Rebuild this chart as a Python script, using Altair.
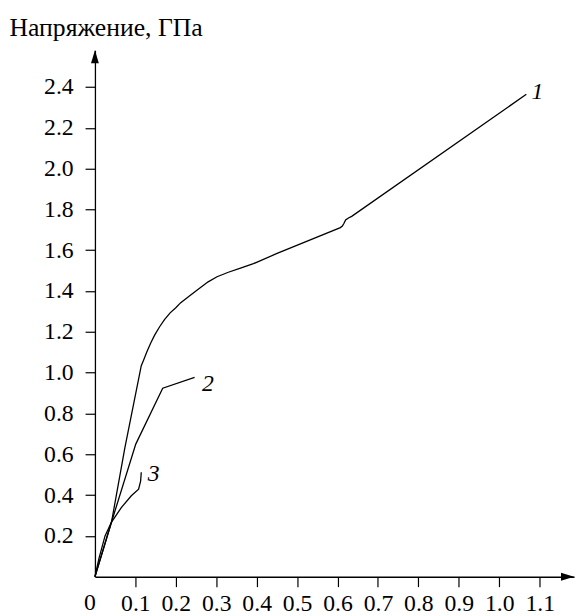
import altair as alt
import pandas as pd

# ---- data ----
curve1_x = [0, 0.041, 0.074, 0.1146, 0.12, 0.128, 0.138, 0.148, 0.16, 0.172, 0.186, 0.2, 0.2115, 0.232, 0.253, 0.28, 0.302,
            0.33, 0.36, 0.392, 0.449, 0.607, 0.612, 0.616, 0.62, 0.627, 0.635, 1.067]
curve1_y = [0, 0.268, 0.631, 1.034, 1.06, 1.1, 1.145, 1.185, 1.225, 1.26, 1.293, 1.318, 1.342, 1.373, 1.405, 1.445, 1.47,
            1.492, 1.512, 1.534, 1.583, 1.711, 1.718, 1.732, 1.748, 1.758, 1.766, 2.364]
curve2_x = [0, 0.041, 0.101, 0.1676, 0.2465]
curve2_y = [0, 0.268, 0.65, 0.924, 0.977]
curve3_x = [0, 0.01, 0.025, 0.041, 0.0657, 0.09, 0.108, 0.113, 0.1146]
curve3_y = [0, 0.09, 0.2, 0.268, 0.340, 0.397, 0.429, 0.469, 0.512]

label_text = ["1", "2", "3"]
label_x = [1.0945, 0.2794, 0.1451]
label_y = [2.377, 0.943, 0.501]

x_ticks = [0.1, 0.2, 0.3, 0.4, 0.5, 0.6, 0.7, 0.8, 0.9, 1.0, 1.1]
y_ticks = [0.2, 0.4, 0.6, 0.8, 1.0, 1.2, 1.4, 1.6, 1.8, 2.0, 2.2, 2.4]
x_max = 1.185
y_max = 2.58
y_title = "Напряжение, ГПа"

FONT = "Liberation Serif, Times New Roman, serif"
FS = 24

def frame(xs_, ys_):
    return pd.DataFrame({"x": xs_, "y": ys_, "i": list(range(len(xs_)))})

xs = alt.Scale(domain=[0, x_max], nice=False, zero=False)
ys = alt.Scale(domain=[0, y_max], nice=False, zero=False)

x_axis = alt.Axis(values=x_ticks, format=".1f", title=None, grid=False,
                  tickSize=10, tickColor="black", tickWidth=1.2,
                  domainColor="black", domainWidth=1.3,
                  labelFont=FONT, labelFontSize=FS, labelColor="black",
                  labelPadding=5)
y_axis = alt.Axis(values=y_ticks, format=".1f", grid=False,
                  tickSize=10, tickColor="black", tickWidth=1.2,
                  domainColor="black", domainWidth=1.3,
                  labelFont=FONT, labelFontSize=FS, labelColor="black",
                  labelPadding=12,
                  title=y_title, titleAngle=0, titleAlign="left",
                  titleBaseline="alphabetic", titleX=-87, titleY=-15,
                  titleFont=FONT, titleFontSize=26, titleFontWeight="normal",
                  titleColor="black")

line1 = alt.Chart(frame(curve1_x, curve1_y)).mark_line(
    color="black", strokeWidth=1.3).encode(
    x=alt.X("x:Q", scale=xs, axis=x_axis),
    y=alt.Y("y:Q", scale=ys, axis=y_axis),
    order="i:Q",
)
line2 = alt.Chart(frame(curve2_x, curve2_y)).mark_line(color="black", strokeWidth=1.3).encode(
    x=alt.X("x:Q", scale=xs), y=alt.Y("y:Q", scale=ys), order="i:Q")
line3 = alt.Chart(frame(curve3_x, curve3_y)).mark_line(
    color="black", strokeWidth=1.3).encode(
    x=alt.X("x:Q", scale=xs), y=alt.Y("y:Q", scale=ys), order="i:Q")

labels = pd.DataFrame({"t": label_text, "x": label_x, "y": label_y})
text = alt.Chart(labels).mark_text(font=FONT, fontSize=FS, fontStyle="italic",
                                   color="black", baseline="middle", align="center").encode(
    x=alt.X("x:Q", scale=xs), y=alt.Y("y:Q", scale=ys), text="t:N")

zero_lbl = alt.Chart(pd.DataFrame({"x": [0], "y": [0], "t": ["0"]})).mark_text(
    font=FONT, fontSize=FS, color="black", baseline="middle", align="center",
    dx=-5, dy=27).encode(x=alt.X("x:Q", scale=xs), y=alt.Y("y:Q", scale=ys), text="t:N")

arrow_up = alt.Chart(pd.DataFrame({"x": [0], "y": [y_max]})).mark_point(
    shape="M0,0 L-0.3,1 L0.3,1 Z", filled=True, color="black", opacity=1, size=700, strokeWidth=0
).encode(x=alt.X("x:Q", scale=xs), y=alt.Y("y:Q", scale=ys))

arrow_right = alt.Chart(pd.DataFrame({"x": [x_max], "y": [0]})).mark_point(
    shape="M0,0 L-1,-0.3 L-1,0.3 Z", filled=True, color="black", opacity=1, size=700, strokeWidth=0
).encode(x=alt.X("x:Q", scale=xs), y=alt.Y("y:Q", scale=ys))

chart = alt.layer(line1, line2, line3, text, zero_lbl, arrow_up, arrow_right).properties(
    width=485, height=533,
    autosize="none",
    padding={"left": 88, "top": 39, "right": 5, "bottom": 36},
    background="white",
).configure_view(stroke=None)

chart.save("out.html", embed_options={"renderer": "svg", "actions": False})
